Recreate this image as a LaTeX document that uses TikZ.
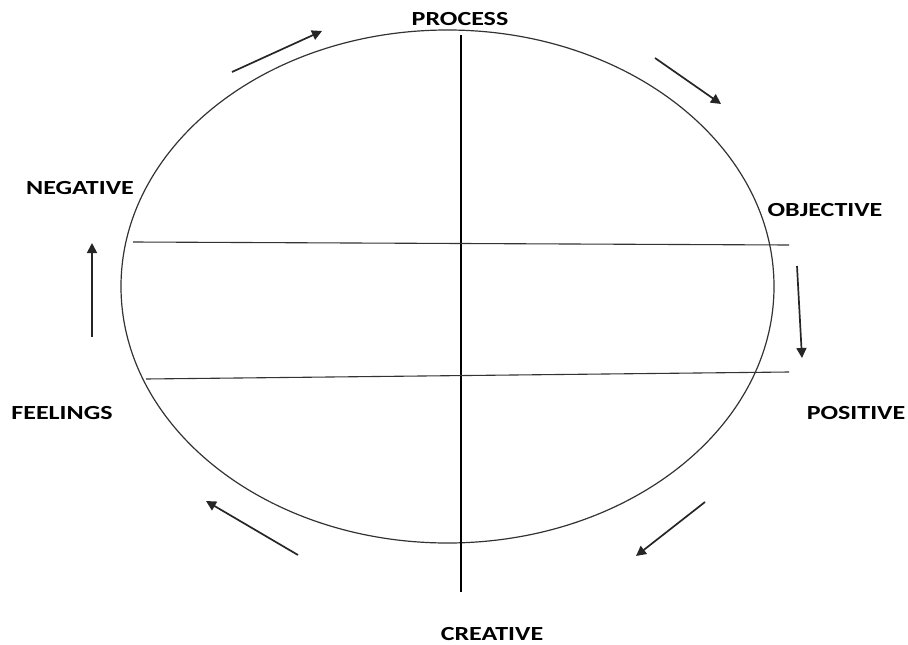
\documentclass[tikz,border=0pt]{standalone}
\usepackage{fontspec}
\setmainfont{Carlito}[FakeStretch=1.3]
\usetikzlibrary{arrows.meta}

\begin{document}
\begin{tikzpicture}[x=1pt,y=-1pt,
  every node/.style={font=\bfseries\fontsize{20}{24}\selectfont,inner sep=0pt},
  flow/.style={-{Triangle[length=10pt,width=10pt]},line width=1.7pt,black!85}]
  \useasboundingbox (0,0) rectangle (908,645);
  % cycle
  \draw[black!80,line width=1.2pt] (447.5,286.5) ellipse [x radius=326.5,y radius=256.5];
  % axes
  \draw[black,line width=1.1pt] (461,35)--(461,592);
  \draw[black!80,line width=1.1pt] (133,242)--(789,245);
  \draw[black!80,line width=1.1pt] (146,379)--(789,372);
  % labels
  \node (process)   at (460,19)  {PROCESS};
  \node (negative)  at (80,188)  {NEGATIVE};
  \node (objective) at (825,210) {OBJECTIVE};
  \node (feelings)  at (62,413)  {FEELINGS};
  \node (positive)  at (856,413) {POSITIVE};
  \node (creative)  at (492,634) {CREATIVE};
  % arrows
  \foreach \n/\xa/\ya/\xb/\yb in {a/232/72/322/31,b/655/58/721/104,
                                  c/797/266/802/358,d/705/502/636/556,
                                  e/298/555/206/501,f/92/337/92/243}
  {
    \coordinate (s\n) at (\xa,\ya);
    \coordinate (t\n) at (\xb,\yb);
    \draw[flow] (s\n)--(t\n);
  }
\end{tikzpicture}
\end{document}
